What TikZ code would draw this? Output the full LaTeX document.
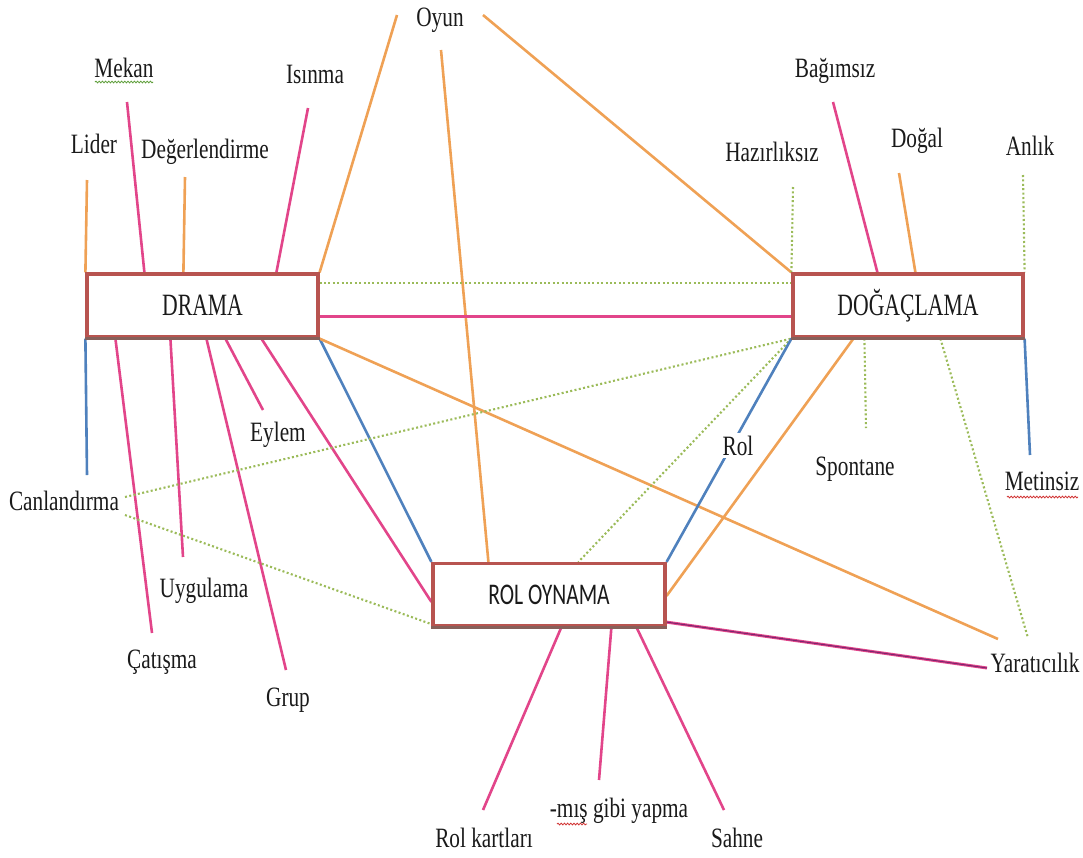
\documentclass[tikz,border=0pt]{standalone}
\usepackage{fontspec}
\setmainfont{Liberation Serif}
\newfontfamily\lblfont[FakeStretch=0.76]{Liberation Serif}
\newfontfamily\boxfont[FakeStretch=0.70]{Liberation Serif}
\newfontfamily\rolfont[FakeStretch=0.72]{Carlito}
\usetikzlibrary{calc,decorations.pathmorphing}
\pgfdeclarelayer{bg}
\pgfsetlayers{bg,main}
\definecolor{pinkc}{HTML}{E2458A}
\definecolor{orangec}{HTML}{EFA155}
\definecolor{bluec}{HTML}{4F81BD}
\definecolor{greenc}{HTML}{9BBB59}
\definecolor{boxred}{HTML}{B85450}
\definecolor{boxshadow}{HTML}{86605A}
\definecolor{wavyred}{HTML}{D03030}
\definecolor{wavygreen}{HTML}{5E9E3A}
\definecolor{txt}{HTML}{1A1A1A}
\begin{document}
\begin{tikzpicture}[x=1pt,y=-1pt,
  lbl/.style={font=\lblfont\fontsize{28}{30}\selectfont, inner sep=0pt, anchor=base, text=txt},
  bigbox/.style={draw=boxred, line width=3.2pt, fill=white, inner sep=0pt,
    font=\boxfont\fontsize{31}{33}\selectfont, text=txt},
  rolbox/.style={draw=boxred, line width=3.2pt, fill=white, inner sep=0pt,
    font=\rolfont\fontsize{30}{32}\selectfont, text=txt},
  pinkln/.style={draw=pinkc, line width=2.6pt},
  orangeln/.style={draw=orangec, line width=2.6pt},
  blueln/.style={draw=bluec, line width=2.6pt},
  dotln/.style={draw=greenc, line width=2.1pt, dash pattern=on 2pt off 2.4pt},
  wavy/.style={decorate, decoration={snake, amplitude=0.9pt, segment length=3.2pt}, line width=0.8pt}
]
\useasboundingbox (0,0) rectangle (1083,857);

% main boxes
\node[bigbox, minimum width=231pt, minimum height=63pt] (drama) at (202.5,305.5) {DRAMA};
\node[bigbox, minimum width=230pt, minimum height=63pt] (dog) at (908,305.5) {DOĞAÇLAMA};
\node[rolbox, minimum width=232pt, minimum height=62pt] (rol) at (549,594.5) {ROL OYNAMA};
\draw[boxshadow, line width=3.2pt] (drama.south west) -- (drama.south east);
\draw[boxshadow, line width=3.2pt] (dog.south west) -- (dog.south east);
\draw[boxshadow, line width=3.2pt] (rol.south west) -- (rol.south east);

% labels
\node[lbl] (oyun) at (440,26) {Oyun};
\node[lbl] (mekan) at (124,77) {Mekan};
\node[lbl] (isinma) at (315,83) {Isınma};
\node[lbl] (lider) at (94,153) {Lider};
\node[lbl] (deger) at (205,158) {Değerlendirme};
\node[lbl] (hazir) at (772,161) {Hazırlıksız};
\node[lbl] (bagim) at (835,77) {Bağımsız};
\node[lbl] (dogal) at (917,147) {Doğal};
\node[lbl] (anlik) at (1030,155) {Anlık};
\node[lbl] (canl) at (64,510) {Canlandırma};
\node[lbl] (eylem) at (278,441) {Eylem};
\node[lbl] (uygul) at (204,597) {Uygulama};
\node[lbl] (catis) at (162,668) {Çatışma};
\node[lbl] (grup) at (288,706) {Grup};
\node[lbl, fill=white, inner sep=3pt] (rolw) at (738,455) {Rol};
\node[lbl] (spont) at (855,475) {Spontane};
\node[lbl] (metin) at (1042,490) {Metinsiz};
\node[lbl] (kart) at (484,847) {Rol kartları};
\node[lbl] (mis) at (619,817) {-mış gibi yapma};
\node[lbl] (sahne) at (737,847) {Sahne};
\node[lbl] (yarat) at (1035,672) {Yaratıcılık};

% spell-check underlines
\draw[wavy, wavygreen] (95,82) -- (153,82);
\draw[wavy, wavyred] (1007,497) -- (1078,497);
\draw[wavy, wavyred] (557,824) -- (587,824);

% free ends of connectors
\coordinate (lider-e) at (87,180);
\coordinate (mekan-e) at (127,102);
\coordinate (deger-e) at (185,177);
\coordinate (isinma-e) at (308,108);
\coordinate (oyun-l) at (397,15);
\coordinate (oyun-m) at (441,50);
\coordinate (oyun-r) at (483,15);
\coordinate (hazir-e) at (793,187);
\coordinate (bagim-e) at (833,102);
\coordinate (dogal-e) at (899,173);
\coordinate (anlik-e) at (1023,175);
\coordinate (canl-b) at (87,475);
\coordinate (canl-d1) at (125,497);
\coordinate (canl-d2) at (125,515);
\coordinate (catis-e) at (152,633);
\coordinate (uygul-e) at (183,557);
\coordinate (grup-e) at (286,670);
\coordinate (eylem-e) at (263,410);
\coordinate (spont-e) at (866,428);
\coordinate (metin-e) at (1030,455);
\coordinate (yarat-o) at (998,639);
\coordinate (yarat-d) at (1028,638);
\coordinate (yarat-p) at (987,668);
\coordinate (kart-e) at (483,810);
\coordinate (mis-e) at (599,780);
\coordinate (sahne-e) at (724,810);

\begin{pgfonlayer}{bg}
% DRAMA top
\draw[orangeln] (lider-e) -- (drama.north west);
\draw[pinkln] (mekan-e) -- ([xshift=59pt]drama.north west);
\draw[orangeln] (deger-e) -- ([xshift=98pt]drama.north west);
\draw[pinkln] (isinma-e) -- ([xshift=191pt]drama.north west);
% Oyun
\draw[orangeln] (oyun-l) -- (drama.north east);
\draw[orangeln] (oyun-m) -- ([xshift=57pt]rol.north west);
\draw[orangeln] (oyun-r) -- (dog.north west);
% DRAMA - DOGACLAMA
\draw[dotln] ([yshift=-11pt]drama.north east) -- ([yshift=-11pt]dog.north west);
\draw[pinkln] ([yshift=-44pt]drama.north east) -- ([yshift=-44pt]dog.north west);
% DRAMA bottom
\draw[blueln] (drama.south west) -- (canl-b);
\draw[pinkln] ([xshift=30pt]drama.south west) -- (catis-e);
\draw[pinkln] ([xshift=85pt]drama.south west) -- (uygul-e);
\draw[pinkln] ([xshift=121pt]drama.south west) -- (grup-e);
\draw[pinkln] ([xshift=140pt]drama.south west) -- (eylem-e);
\draw[pinkln] ([xshift=176pt]drama.south west) -- ([yshift=-40pt]rol.north west);
\draw[blueln] (drama.south east) -- (rol.north west);
\draw[orangeln] (drama.south east) -- (yarat-o);
% Canlandirma dotted
\draw[dotln] (canl-d1) -- (dog.south west);
\draw[dotln] (canl-d2) -- ([yshift=3pt]rol.south west);
% DOGACLAMA bottom
\draw[dotln] (dog.south west) -- ([xshift=147pt]rol.north west);
\draw[blueln] (dog.south west) -- (rol.north east);
\draw[orangeln] ([xshift=62pt]dog.south west) -- ([yshift=-34pt]rol.north east);
\draw[dotln] ([xshift=73pt]dog.south west) -- (spont-e);
\draw[dotln] ([xshift=149pt]dog.south west) -- (yarat-d);
\draw[blueln] (dog.south east) -- (metin-e);
% DOGACLAMA top
\draw[dotln] (hazir-e) -- (dog.north west);
\draw[pinkln] (bagim-e) -- ([xshift=86pt]dog.north west);
\draw[orangeln] (dogal-e) -- ([xshift=124pt]dog.north west);
\draw[dotln] (anlik-e) -- (dog.north east);
% ROL OYNAMA
\draw[pinkln, line width=3pt] ([yshift=5pt]rol.south east) -- (yarat-p);
\draw[draw=black!70!blue, line width=1pt, opacity=0.45] ([yshift=5pt]rol.south east) -- (yarat-p);
\draw[pinkln] ([xshift=130pt]rol.south west) -- (kart-e);
\draw[pinkln] ([xshift=180pt]rol.south west) -- (mis-e);
\draw[pinkln] ([xshift=205pt]rol.south west) -- (sahne-e);
\end{pgfonlayer}
\end{tikzpicture}
\end{document}
